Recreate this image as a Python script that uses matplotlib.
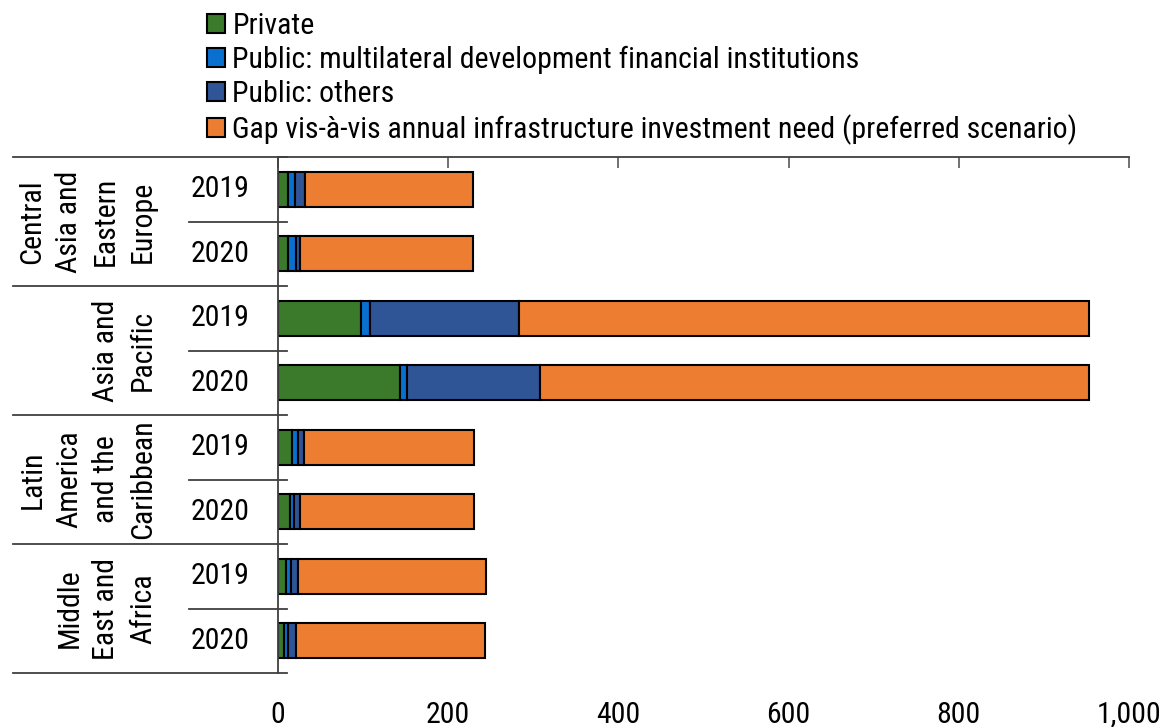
import matplotlib.pyplot as plt
import matplotlib.transforms as mtransforms
from matplotlib import font_manager
from matplotlib.ticker import FuncFormatter

# pick a narrow face if one is there, the chart uses Arial Narrow
have = {f.name for f in font_manager.fontManager.ttflist}
if 'Liberation Sans Narrow' in have:
    family, fs = 'Liberation Sans Narrow', 21.5
elif 'Roboto Condensed' in have:
    family, fs = 'Roboto Condensed', 21.5
else:
    family, fs = 'Liberation Sans', 18.5
plt.rcParams['font.family'] = [family, 'DejaVu Sans']

regions = ['Central\nAsia and\nEastern\nEurope', 'Asia and\nPacific',
           'Latin\nAmerica\nand the\nCaribbean', 'Middle\nEast and\nAfrica']
years = ['2019', '2020']
series = ['Private',
          'Public: multilateral development financial institutions',
          'Public: others',
          'Gap vis-à-vis annual infrastructure investment need (preferred scenario)']

# rows: region x year, top to bottom
private = [12, 12, 98, 143, 17, 14, 9, 7]
public_mdb = [8, 9, 10, 9, 6, 5, 6, 5]
public_other = [12, 5, 175, 156, 8, 7, 9, 9]
gap = [197, 203, 670, 645, 199, 204, 221, 222]

colors = ['#3B7A2A', '#0A70D0', '#2F5597', '#ED7D31']

fig = plt.figure(figsize=(11.68, 7.27), dpi=100)
ax = fig.add_axes([278 / 1168, 1 - 673 / 727, 851 / 1168, 516 / 727])

ypos = list(range(len(private)))
left = [0] * len(private)
for vals, c, lab in zip([private, public_mdb, public_other, gap], colors, series):
    ax.barh(ypos, vals, left=left, height=0.55, color=c, edgecolor='black',
            linewidth=1.5, label=lab)
    left = [l + v for l, v in zip(left, vals)]

ax.set_xlim(0, 1000)
ax.set_ylim(len(private) - 0.5, -0.5)
ax.set_xticks(range(0, 1001, 200))
ax.xaxis.set_major_formatter(FuncFormatter(lambda v, p: f'{int(v):,}'))
ax.tick_params(axis='x', top=True, bottom=False, labeltop=False, labelbottom=True,
               direction='in', length=8, width=1.2, color='#595959', pad=20,
               labelsize=fs)
ax.set_yticks([])
for s in ['right', 'bottom']:
    ax.spines[s].set_visible(False)
for s in ['top', 'left']:
    ax.spines[s].set_color('#404040')
    ax.spines[s].set_linewidth(1.3)

# category axis: separators and labels
px = lambda x: (x - 278) / 851
trans = mtransforms.blended_transform_factory(ax.transAxes, ax.transData)
for g in range(len(regions) + 1):
    y = g * 2 - 0.5
    ax.plot([px(13), px(287)], [y, y], transform=trans, color='#404040',
            lw=1.3, clip_on=False)
for g, reg in enumerate(regions):
    y = g * 2 + 0.5
    ax.plot([px(189), px(287)], [y, y], transform=trans, color='#404040',
            lw=1.3, clip_on=False)
    ax.text(px(157), g * 2 + 0.5, reg, transform=trans, rotation=90,
            ha='right', va='center', multialignment='center', fontsize=fs,
            linespacing=1.4)
    for k, yr in enumerate(years):
        ax.text(px(220), g * 2 + k, yr, transform=trans, ha='center',
                va='center', fontsize=fs)

fig.legend(loc='upper left', bbox_to_anchor=(207 / 1168, 1 - 12 / 727),
           frameon=False, fontsize=fs, handlelength=0.6, handleheight=0.6,
           handletextpad=0.25, labelspacing=0.2, borderaxespad=0, borderpad=0)

fig.savefig('out.png', dpi=100)
